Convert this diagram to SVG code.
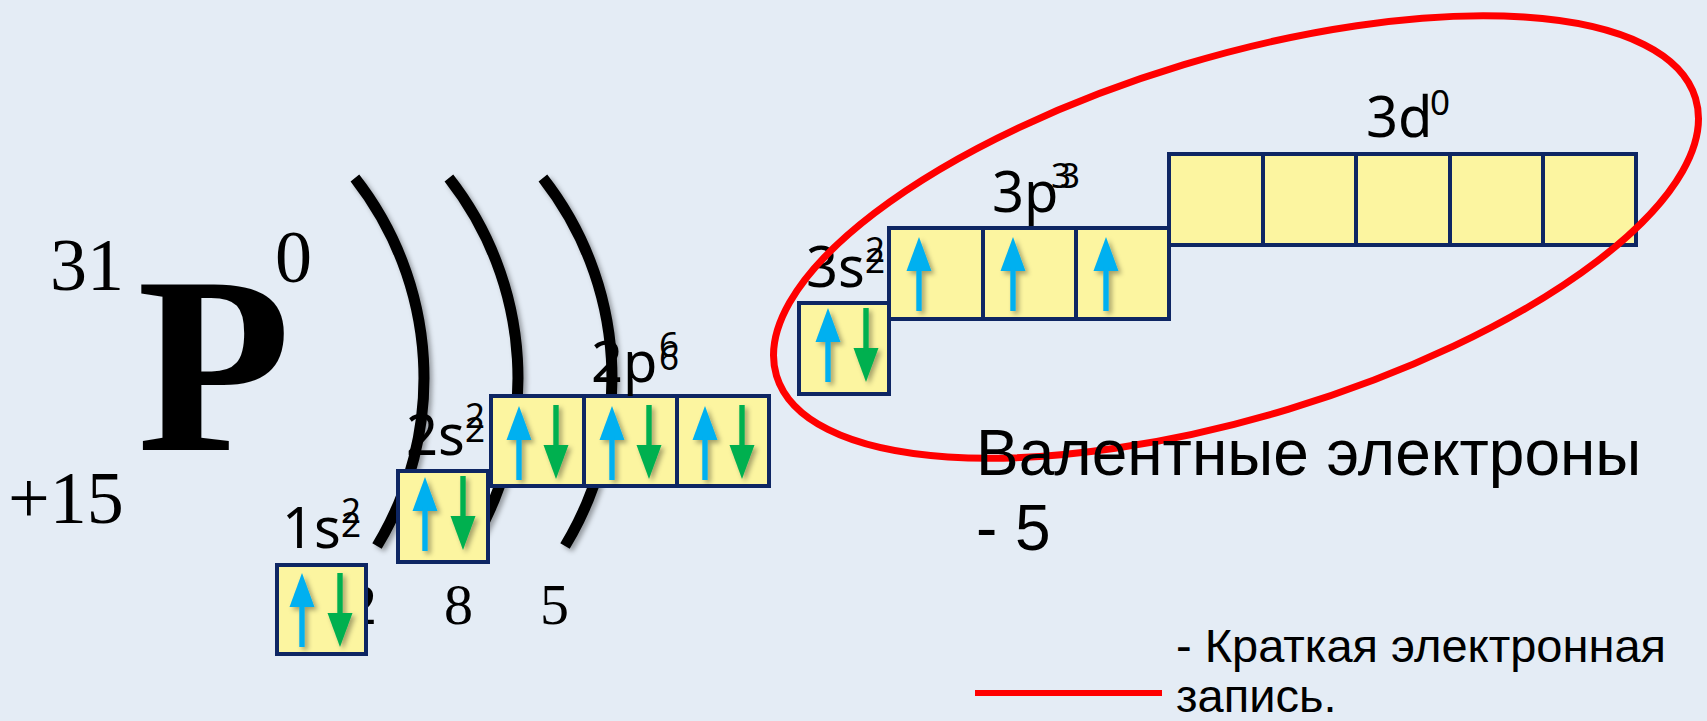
<svg xmlns="http://www.w3.org/2000/svg" xmlns:xlink="http://www.w3.org/1999/xlink" width="1707" height="721" viewBox="0 0 1707 721">
<defs>
<style>
.bg{fill:#E4ECF5}
.box{fill:#FCF5A0;stroke:#0E2663;stroke-width:4}
.serif{font-family:"Liberation Serif","Times New Roman",serif;fill:#000}
.lbl{font-family:"Noto Sans","Open Sans",sans-serif;font-size:56px;fill:#000}
.sup{font-family:"Noto Sans","Open Sans",sans-serif;font-size:35px;fill:#000}
.ru{font-family:"Liberation Sans",Arial,sans-serif;fill:#000}
.shell{fill:none;stroke:#000;stroke-width:11}
</style>
<filter id="sh" x="-50%" y="-50%" width="200%" height="200%">
<feDropShadow dx="3" dy="3" stdDeviation="2.5" flood-color="#000" flood-opacity="0.35"/>
</filter>
<g id="up">
<polygon points="0,0 12.5,34 -12.5,34" fill="#00B0F0"/>
<rect x="-2.7" y="30" width="5.4" height="44" fill="#00B0F0"/>
</g>
<g id="down">
<polygon points="0,74 12.5,40 -12.5,40" fill="#00B050"/>
<rect x="-2.7" y="0" width="5.4" height="44" fill="#00B050"/>
</g>
</defs>
<rect class="bg" x="0" y="0" width="1707" height="721"/>

<g id="element">
<text class="serif" x="50" y="290" font-size="74">31</text>
<text class="serif" x="137" y="450" font-size="252" font-weight="bold">P</text>
<text class="serif" x="275" y="282" font-size="74">0</text>
<text class="serif" x="8" y="523" font-size="74">+15</text>
</g>

<g id="shells" filter="url(#sh)">
<path class="shell" d="M354.9,178 A324,324 0 0 1 377,546"/>
<path class="shell" d="M448.9,178 A324,324 0 0 1 471,546"/>
<path class="shell" d="M542.9,178 A324,324 0 0 1 565,546"/>
</g>

<g id="shell-counts">
<text class="serif" x="348" y="624" font-size="58">2</text>
<text class="serif" x="444" y="624" font-size="58">8</text>
<text class="serif" x="540" y="624" font-size="58">5</text>
</g>

<g id="orb-1s">
<rect class="box" x="277" y="565" width="89" height="89"/>
<g filter="url(#sh)">
<use xlink:href="#up" x="302" y="573"/>
<use xlink:href="#down" x="340" y="573"/>
</g>
<text class="lbl" x="282" y="548">1s</text>
<text class="sup" x="341" y="523">2</text>
<text class="sup" x="341" y="537">2</text>
</g>

<g id="orb-2s">
<rect class="box" x="398" y="471" width="90" height="91"/>
<g filter="url(#sh)">
<use xlink:href="#up" x="425" y="477"/>
<use xlink:href="#down" x="463" y="476"/>
</g>
<text class="lbl" x="406" y="455">2s</text>
<text class="sup" x="465" y="428">2</text>
<text class="sup" x="465" y="442">2</text>
</g>

<g id="orb-2p">
<rect class="box" x="491" y="396" width="93" height="90"/>
<rect class="box" x="584" y="396" width="93" height="90"/>
<rect class="box" x="677" y="396" width="92" height="90"/>
<g filter="url(#sh)">
<use xlink:href="#up" x="519" y="406"/>
<use xlink:href="#down" x="556" y="405"/>
<use xlink:href="#up" x="612" y="406"/>
<use xlink:href="#down" x="649" y="405"/>
<use xlink:href="#up" x="705" y="406"/>
<use xlink:href="#down" x="742" y="405"/>
</g>
<text class="lbl" x="591" y="382">2p</text>
<text class="sup" x="659" y="357">6</text>
<text class="sup" x="659" y="370">6</text>
</g>

<g id="orb-3s">
<rect class="box" x="799" y="303" width="90" height="91"/>
<g filter="url(#sh)">
<use xlink:href="#up" x="828" y="308"/>
<use xlink:href="#down" x="866" y="308"/>
</g>
<text class="lbl" x="806" y="287">3s</text>
<text class="sup" x="865" y="262">2</text>
<text class="sup" x="865" y="273">2</text>
</g>

<g id="orb-3p">
<rect class="box" x="889" y="228" width="94" height="91"/>
<rect class="box" x="983" y="228" width="93" height="91"/>
<rect class="box" x="1076" y="228" width="93" height="91"/>
<g filter="url(#sh)">
<use xlink:href="#up" x="919" y="237"/>
<use xlink:href="#up" x="1013" y="237"/>
<use xlink:href="#up" x="1106" y="237"/>
</g>
<text class="lbl" x="992" y="212">3p</text>
<text class="sup" x="1051" y="188">3</text>
<text class="sup" x="1060" y="188">3</text>
</g>

<g id="orb-3d">
<rect class="box" x="1169" y="154" width="94" height="91"/>
<rect class="box" x="1263" y="154" width="93" height="91"/>
<rect class="box" x="1356" y="154" width="94" height="91"/>
<rect class="box" x="1450" y="154" width="93" height="91"/>
<rect class="box" x="1543" y="154" width="93" height="91"/>
<text class="lbl" x="1366" y="137">3d</text>
<text class="sup" x="1430" y="115" font-size="39">0</text>
</g>

<g id="valence-ellipse">
<ellipse cx="1236" cy="237" rx="480" ry="180" transform="rotate(-16.8 1236 237)" fill="none" stroke="#FF0000" stroke-width="7"/>
</g>

<g id="valence-text">
<text class="ru" x="976" y="475" font-size="64">Валентные электроны</text>
<text class="ru" x="976" y="550" font-size="64">- 5</text>
</g>

<g id="legend">
<line x1="975" y1="693" x2="1162" y2="693" stroke="#FF0000" stroke-width="6"/>
<text class="ru" x="1176" y="662" font-size="47">- Краткая электронная</text>
<text class="ru" x="1176" y="712" font-size="47">запись.</text>
</g>
</svg>
